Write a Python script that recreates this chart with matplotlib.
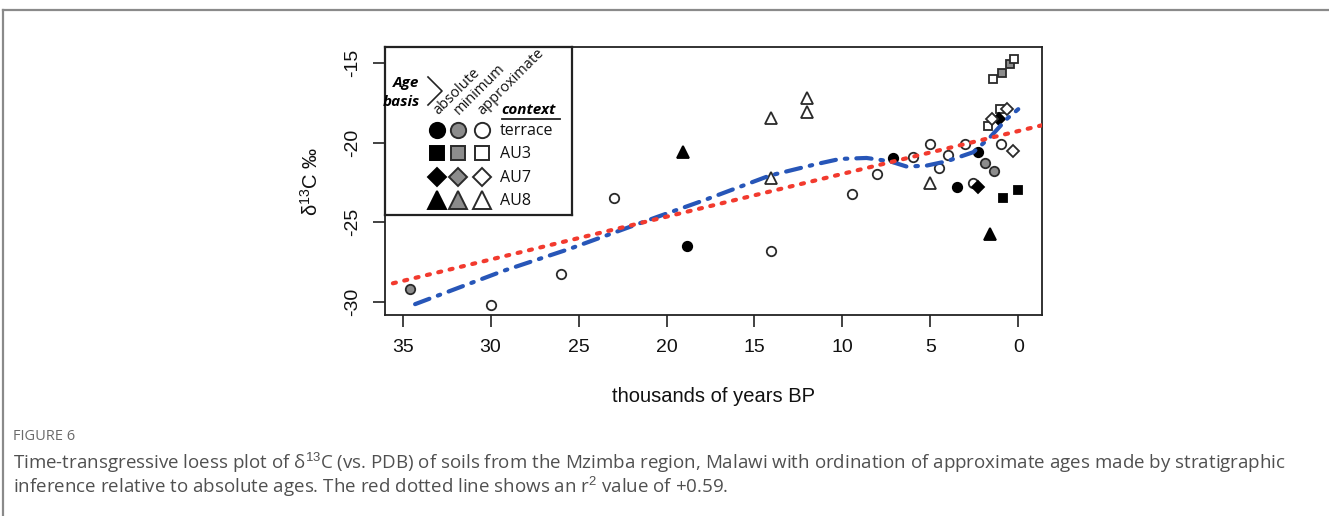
import matplotlib
matplotlib.use('Agg')
import matplotlib.pyplot as plt
from matplotlib.lines import Line2D

plt.rcParams['lines.scale_dashes'] = False
plt.rcParams['font.family'] = ['Liberation Sans', 'DejaVu Sans']
plt.rcParams['mathtext.fontset'] = 'custom'
plt.rcParams['mathtext.rm'] = 'Liberation Sans'

# ---------------- data (age in thousands of years BP, d13C per mil) ----------------
terrace_abs_t = [18.84, 7.13, 3.50, 2.30]
terrace_abs_v = [-26.5, -20.94, -22.8, -20.6]
terrace_min_t = [34.6, 1.90, 1.40]
terrace_min_v = [-29.2, -21.3, -21.8]
terrace_apx_t = [30.0, 26.0, 23.0, 14.06, 9.46, 8.04, 5.99, 5.03, 4.52, 4.0, 3.04, 2.58, 0.99]
terrace_apx_v = [-30.2, -28.25, -23.44, -26.8, -23.25, -21.94, -20.88, -20.06, -21.6, -20.8, -20.1, -22.5, -20.06]
au3_abs_t = [0.88, 0.03]
au3_abs_v = [-23.44, -23.0]
au3_min_t = [0.94, 0.48]
au3_min_v = [-15.6, -15.06]
au3_apx_t = [1.45, 0.26, 1.05, 1.73]
au3_apx_v = [-16.0, -14.75, -17.9, -18.94]
au7_abs_t = [1.10, 2.30]
au7_abs_v = [-18.5, -22.75]
au7_apx_t = [0.65, 1.50, 0.31]
au7_apx_v = [-17.9, -18.5, -20.5]
au8_abs_t = [19.06, 1.62]
au8_abs_v = [-20.6, -25.7]
au8_apx_t = [14.06, 14.06, 12.0, 12.0, 5.03]
au8_apx_v = [-18.44, -22.2, -17.2, -18.1, -22.5]

loess_t = [34.29, 29.27, 25.48, 20.56, 17.91, 14.12, 11.5, 10.14, 8.63, 7.3, 6.35, 5.22, 4.08, 2.57, 1.62, 0.67, 0.01]
loess_v = [-30.13, -28.04, -26.65, -24.67, -23.63, -22.06, -21.35, -21.02, -20.96, -21.17, -21.5, -21.44, -21.17, -20.6, -19.67, -18.52, -17.9]

fit_intercept = -19.27
fit_slope = -0.2687

x_ticks = [35, 30, 25, 20, 15, 10, 5, 0]
y_ticks = [-30, -25, -20, -15]

context_labels = ['terrace', 'AU3', 'AU7', 'AU8']
basis_labels = ['absolute', 'minimum', 'approximate']

# ---------------- figure ----------------
W, H = 1329, 516
fig = plt.figure(figsize=(W / 100, H / 100), dpi=100)
fig.patch.set_facecolor('white')


def fx(x):
    return x / W


def fy(y):
    return 1 - y / H


# outer frame (top and left rules)
fig.add_artist(Line2D([fx(3), fx(W)], [fy(10), fy(10)], color='#8a8a8a', lw=1.6))
fig.add_artist(Line2D([fx(3), fx(3)], [fy(10), fy(H)], color='#8a8a8a', lw=1.6))

ax_l, ax_r, ax_t, ax_b = 385, 1042, 47, 315
ax = fig.add_axes([fx(ax_l), fy(ax_b), (ax_r - ax_l) / W, (ax_b - ax_t) / H])

edge = '#2a2a2a'
FILL = {'abs': 'black', 'min': '#8c8c8c', 'apx': 'white'}
groups = [
    (terrace_abs_t, terrace_abs_v, 'o', 'abs', 6.8),
    (terrace_min_t, terrace_min_v, 'o', 'min', 6.8),
    (terrace_apx_t, terrace_apx_v, 'o', 'apx', 6.8),
    (au3_abs_t, au3_abs_v, 's', 'abs', 6.2),
    (au3_min_t, au3_min_v, 's', 'min', 6.2),
    (au3_apx_t, au3_apx_v, 's', 'apx', 6.2),
    (au7_abs_t, au7_abs_v, 'D', 'abs', 6.0),
    (au7_apx_t, au7_apx_v, 'D', 'apx', 6.0),
    (au8_abs_t, au8_abs_v, '^', 'abs', 8.0),
    (au8_apx_t, au8_apx_v, '^', 'apx', 8.0),
]
for t, v, m, b, ms in groups:
    ax.plot(t, v, linestyle='none', marker=m, ms=ms, mfc=FILL[b],
            mec=('black' if b == 'abs' else edge), mew=1.3, zorder=3)

# loess curve
ln, = ax.plot(loess_t, loess_v, color='#2756b8', lw=3.0, solid_capstyle='round',
              dash_capstyle='round', zorder=4)
ln.set_dashes((11, 6.5, 1.8, 6.5))

# linear fit
rl = ax.axline((0, fit_intercept), slope=fit_slope, color='#f23a2e', lw=3.0,
               dash_capstyle='round', zorder=4)
rl.set_dashes((2.2, 6.2))

ax.set_xlim(36.0, -1.34)
ax.set_ylim(-30.81, -14.0)
ax.set_xticks(x_ticks)
ax.set_xticklabels([str(v) for v in x_ticks])
ax.set_yticks(y_ticks)
ax.set_yticklabels([str(v) for v in y_ticks])
for s in ax.spines.values():
    s.set_color('#222222')
    s.set_linewidth(1.3)
ax.tick_params(direction='out', length=8.5, width=1.2, color='#222222',
               labelsize=14, labelcolor='#111111', pad=9)
ax.tick_params(axis='y', labelrotation=90)
for lab in ax.get_yticklabels():
    lab.set_va('center')

ax.set_xlabel('thousands of years BP', fontsize=14.5, color='#111111', labelpad=22)
ax.set_ylabel('δ$^{13}$C ‰', fontsize=14.5, color='#111111', labelpad=16)

# ---------------- legend box (pixel coordinates inside the box) ----------------
lg_l, lg_r, lg_t, lg_b = 385, 572, 47, 215
lax = fig.add_axes([fx(lg_l), fy(lg_b), (lg_r - lg_l) / W, (lg_b - lg_t) / H])
lax.set_xlim(0, lg_r - lg_l)
lax.set_ylim(lg_b - lg_t, 0)
lax.set_xticks([])
lax.set_yticks([])
lax.set_facecolor('white')
for s in lax.spines.values():
    s.set_color('#222222')
    s.set_linewidth(1.6)
lax.set_zorder(5)

LF = ['Open Sans', 'DejaVu Sans']
lax.text(34, 36, 'Age', ha='right', va='center', fontsize=11, fontweight='bold',
         style='italic', family=LF)
lax.text(35, 55, 'basis', ha='right', va='center', fontsize=11, fontweight='bold',
         style='italic', family=LF)
lax.plot([43, 57, 43], [30, 44, 58], color='#222222', lw=1.2)

for x0, lab in zip([53, 74, 98], basis_labels):
    lax.text(x0, 68, lab, rotation=45, rotation_mode='anchor', ha='left',
             va='baseline', fontsize=10.5, family=LF, color='#111111')

lax.text(144, 63, 'context', ha='center', va='center', fontsize=11, fontweight='bold',
         style='italic', family=LF)
lax.plot([117, 175], [72, 72], color='#222222', lw=1.3)

row_y = [83, 106, 130, 153]
col_x = [52, 73, 97]
row_marker = [('o', 11), ('s', 9.5), ('D', 9.2), ('^', 13)]
for ry, (m, ms), lab in zip(row_y, row_marker, context_labels):
    for cx, b in zip(col_x, ['abs', 'min', 'apx']):
        lax.plot([cx], [ry], marker=m, ms=ms, mfc=FILL[b],
                 mec=('black' if b == 'abs' else edge), mew=1.4, linestyle='none')
    lax.text(115, ry + 1, lab, ha='left', va='center', fontsize=11.5, family=LF,
             color='#111111')

# ---------------- caption ----------------
CF = ['Open Sans', 'DejaVu Sans']
fig.text(fx(13), fy(437), 'FIGURE 6', ha='left', va='center', fontsize=10.5,
         color='#6a6a6a', family=CF)
fig.text(fx(13), fy(463),
         'Time-transgressive loess plot of δ$^{13}$C (vs. PDB) of soils from the Mzimba region, '
         'Malawi with ordination of approximate ages made by stratigraphic',
         ha='left', va='center', fontsize=13.5, color='#505050', family=CF)
fig.text(fx(13), fy(487),
         'inference relative to absolute ages. The red dotted line shows an r$^{2}$ value of +0.59.',
         ha='left', va='center', fontsize=13.5, color='#505050', family=CF)

fig.savefig('out.png', dpi=100, facecolor='white')
